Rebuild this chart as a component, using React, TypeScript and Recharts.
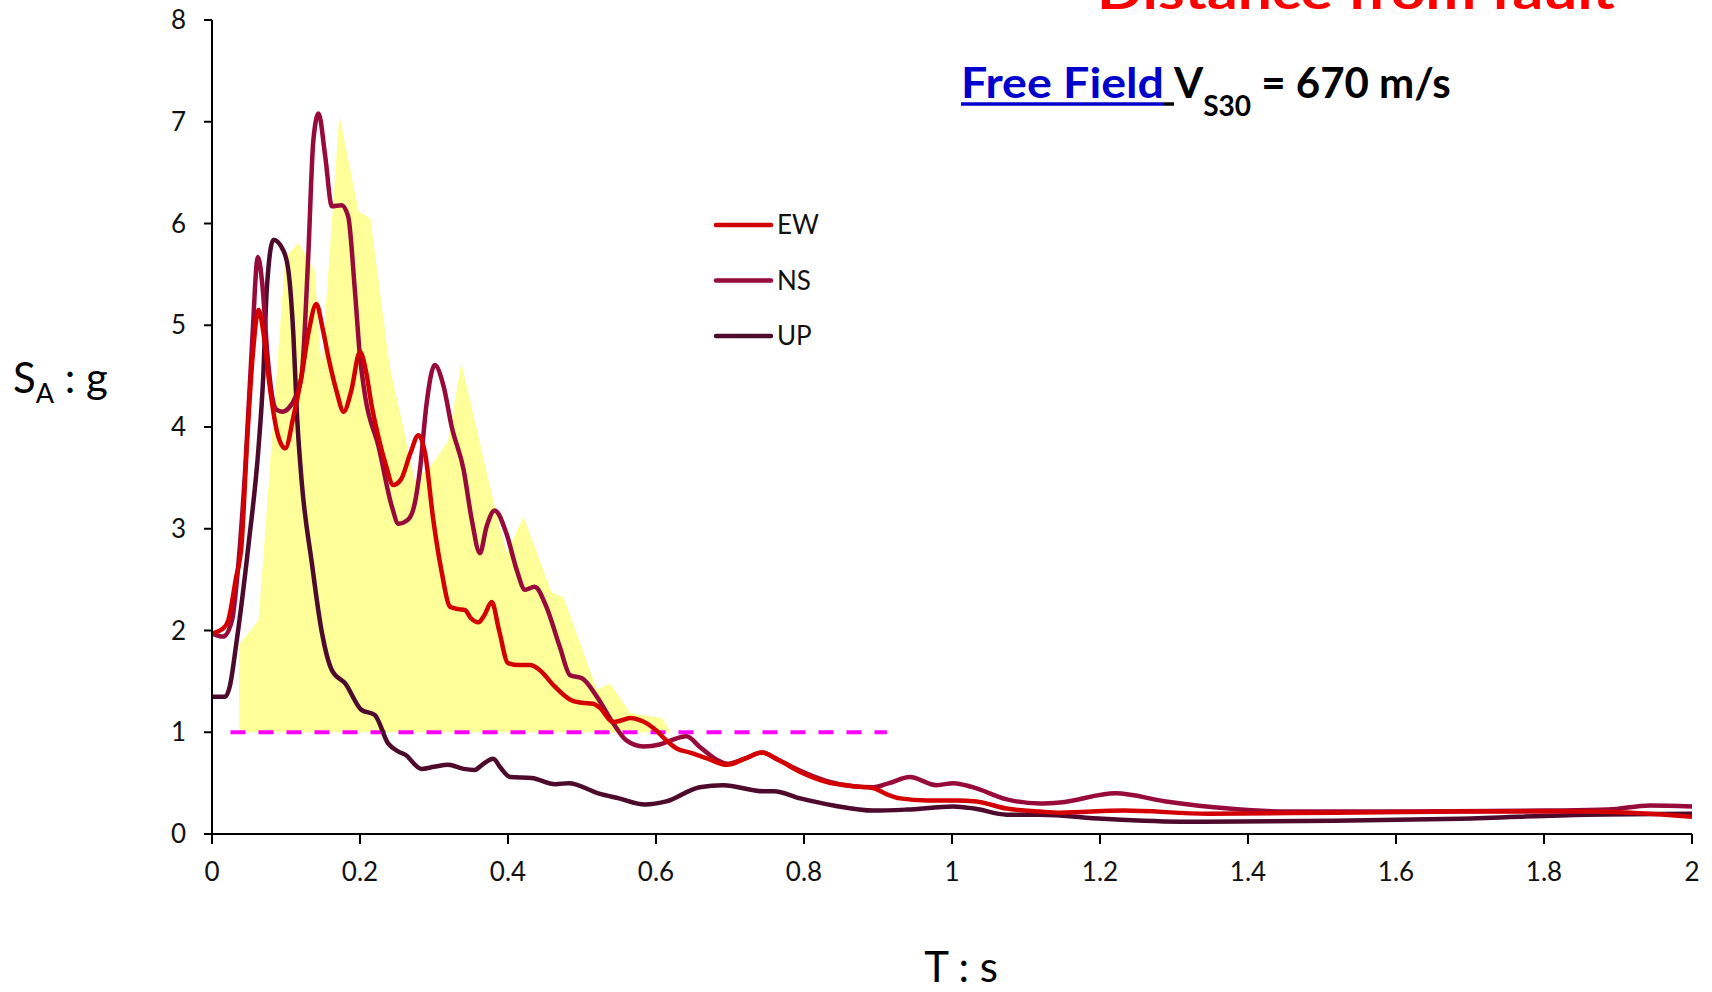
import { ComposedChart, Line, Area, XAxis, YAxis } from "recharts";

// periods (s) and spectral accelerations (g)
const T_TICKS = [0, 0.2, 0.4, 0.6, 0.8, 1, 1.2, 1.4, 1.6, 1.8, 2];
const SA_TICKS = [0, 1, 2, 3, 4, 5, 6, 7, 8];

const EW: [number, number][] = [
  [0, 1.97], [0.015, 2.02], [0.022, 2.1], [0.032, 2.5], [0.04, 2.85], [0.047, 3.8],
  [0.055, 4.7], [0.063, 5.15], [0.07, 4.9], [0.078, 4.4], [0.088, 3.95], [0.099, 3.79],
  [0.11, 4.1], [0.121, 4.5], [0.131, 4.95], [0.141, 5.21], [0.15, 4.95], [0.158, 4.66],
  [0.168, 4.36], [0.178, 4.15], [0.188, 4.35], [0.2, 4.74], [0.208, 4.55], [0.216, 4.2],
  [0.225, 3.9], [0.234, 3.65], [0.245, 3.43], [0.255, 3.48], [0.268, 3.74], [0.279, 3.92],
  [0.288, 3.74], [0.299, 3.09], [0.31, 2.59], [0.322, 2.23], [0.333, 2.21], [0.342, 2.2],
  [0.35, 2.12], [0.36, 2.08], [0.368, 2.15], [0.378, 2.28], [0.388, 2.0], [0.4, 1.68],
  [0.415, 1.66], [0.43, 1.66], [0.443, 1.61], [0.463, 1.45], [0.484, 1.32], [0.5, 1.29],
  [0.515, 1.28], [0.524, 1.24], [0.542, 1.1], [0.555, 1.12], [0.565, 1.14], [0.578, 1.12],
  [0.587, 1.09], [0.6, 1.02], [0.614, 0.92], [0.628, 0.84], [0.646, 0.8], [0.67, 0.74],
  [0.696, 0.68], [0.72, 0.74], [0.743, 0.8], [0.765, 0.73], [0.795, 0.61], [0.831, 0.51],
  [0.866, 0.47], [0.894, 0.45], [0.912, 0.39], [0.93, 0.35], [0.966, 0.33], [1.006, 0.33],
  [1.033, 0.32], [1.074, 0.25], [1.119, 0.22], [1.146, 0.21], [1.232, 0.23], [1.346, 0.2],
  [1.517, 0.21], [1.687, 0.22], [1.858, 0.22], [2.0, 0.17],
];

const NS: [number, number][] = [
  [0, 1.97], [0.015, 1.94], [0.027, 2.1], [0.035, 2.6], [0.045, 3.6], [0.054, 4.8],
  [0.062, 5.67], [0.068, 5.4], [0.075, 4.7], [0.087, 4.17], [0.095, 4.15], [0.103, 4.18],
  [0.113, 4.3], [0.121, 4.5], [0.13, 5.67], [0.137, 6.82], [0.144, 7.08], [0.153, 6.66],
  [0.162, 6.17], [0.175, 6.18], [0.184, 6.07], [0.193, 5.35], [0.2, 4.69], [0.207, 4.3],
  [0.225, 3.81], [0.243, 3.22], [0.252, 3.05], [0.265, 3.09], [0.274, 3.25], [0.281, 3.58],
  [0.29, 4.23], [0.301, 4.61], [0.313, 4.4], [0.324, 4.0], [0.34, 3.58], [0.351, 3.09],
  [0.362, 2.76], [0.371, 3.02], [0.382, 3.18], [0.398, 2.95], [0.412, 2.59], [0.423, 2.4],
  [0.436, 2.43], [0.452, 2.23], [0.47, 1.84], [0.484, 1.56], [0.5, 1.53], [0.52, 1.35],
  [0.542, 1.09], [0.56, 0.92], [0.583, 0.86], [0.605, 0.88], [0.62, 0.92], [0.641, 0.96],
  [0.66, 0.85], [0.682, 0.73], [0.696, 0.69], [0.72, 0.74], [0.743, 0.8], [0.765, 0.73],
  [0.795, 0.62], [0.831, 0.52], [0.866, 0.47], [0.894, 0.46], [0.915, 0.5], [0.943, 0.56],
  [0.979, 0.48], [1.002, 0.5], [1.028, 0.46], [1.074, 0.34], [1.119, 0.3], [1.146, 0.31],
  [1.221, 0.4], [1.289, 0.32], [1.374, 0.25], [1.459, 0.22], [1.63, 0.22], [1.8, 0.23],
  [1.887, 0.24], [1.943, 0.28], [2.0, 0.27],
];

const UP: [number, number][] = [
  [0, 1.35], [0.018, 1.35], [0.024, 1.45], [0.033, 1.88], [0.049, 2.82], [0.063, 3.81],
  [0.069, 4.46], [0.074, 5.35], [0.083, 5.84], [0.096, 5.74], [0.103, 5.55], [0.11, 4.9],
  [0.115, 4.1], [0.121, 3.48], [0.135, 2.66], [0.148, 2.0], [0.162, 1.61], [0.18, 1.48],
  [0.202, 1.22], [0.22, 1.17], [0.238, 0.89], [0.252, 0.81], [0.261, 0.78], [0.283, 0.64],
  [0.3, 0.66], [0.319, 0.68], [0.34, 0.64], [0.355, 0.63], [0.365, 0.68], [0.38, 0.74],
  [0.39, 0.65], [0.403, 0.56], [0.432, 0.55], [0.464, 0.49], [0.482, 0.5], [0.522, 0.4],
  [0.55, 0.35], [0.585, 0.29], [0.614, 0.32], [0.659, 0.46], [0.691, 0.48], [0.745, 0.42],
  [0.759, 0.42], [0.795, 0.35], [0.84, 0.28], [0.894, 0.23], [0.939, 0.24], [1.002, 0.27],
  [1.03, 0.25], [1.074, 0.19], [1.119, 0.19], [1.204, 0.15], [1.318, 0.12], [1.517, 0.13],
  [1.687, 0.15], [1.858, 0.19], [2.0, 0.2],
];

// yellow band, drawn from SA = 1 up to this envelope
const BAND_BASE = 1;
const BAND: [number, number][] = [
  [0.0365, 1.86], [0.063, 2.1], [0.099, 5.67], [0.117, 5.81], [0.139, 5.53], [0.148, 4.56],
  [0.172, 7.07], [0.198, 6.12], [0.214, 6.05], [0.24, 4.6], [0.274, 3.48], [0.295, 3.61],
  [0.319, 3.86], [0.337, 4.63], [0.38, 3.28], [0.398, 2.76], [0.421, 3.12], [0.459, 2.37],
  [0.475, 2.33], [0.52, 1.42], [0.538, 1.48], [0.565, 1.19], [0.608, 1.14], [0.62, 1.0],
];

// dashed 1 g limit line
const LIMIT: [number, number][] = [[0.025, 1], [0.912, 1]];

const SERIES = [
  { name: "EW", color: "#d40000", points: EW },
  { name: "NS", color: "#970a3a", points: NS },
  { name: "UP", color: "#4e0a2c", points: UP },
];

const rows = (pts: [number, number][]) => pts.map(([t, v]) => ({ t, v }));
const bandRows = BAND.map(([t, v]) => ({ t, range: [BAND_BASE, v] }));

const fmt = (v: number) => String(Math.round(v * 10) / 10);
const tickStyle = { fontSize: 26, fill: "#111", fontFamily: "Lato" };

export default function App() {
  return (
    <div style={{ position: "fixed", left: 0, top: 0, width: 1712, height: 992, background: "#fff", overflow: "hidden", fontFamily: "Lato" }}>
      <ComposedChart width={1712} height={992} margin={{ top: 20, right: 20, bottom: 98, left: 0 }}>
        <XAxis
          dataKey="t"
          type="number"
          domain={[0, 2]}
          ticks={T_TICKS}
          tickFormatter={fmt}
          height={60}
          tickSize={10}
          tickMargin={19}
          allowDataOverflow
          axisLine={{ stroke: "#000", strokeWidth: 2 }}
          tickLine={{ stroke: "#000", strokeWidth: 2 }}
          tick={tickStyle}
        />
        <YAxis
          type="number"
          domain={[0, 8]}
          ticks={SA_TICKS}
          width={212}
          tickSize={8}
          tickMargin={18}
          allowDataOverflow
          axisLine={{ stroke: "#000", strokeWidth: 2 }}
          tickLine={{ stroke: "#000", strokeWidth: 2 }}
          tick={tickStyle}
        />
        <Area data={bandRows} dataKey="range" type="linear" fill="#ffff99" fillOpacity={1} stroke="none" isAnimationActive={false} />
        <Line data={rows(LIMIT)} dataKey="v" type="linear" stroke="#ff00ff" strokeWidth={4} strokeDasharray="15 13" dot={false} activeDot={false} isAnimationActive={false} />
        {[...SERIES].reverse().map((s) => (
          <Line key={s.name} data={rows(s.points)} dataKey="v" name={s.name} type="monotone" stroke={s.color} strokeWidth={4.5} dot={false} activeDot={false} isAnimationActive={false} />
        ))}
      </ComposedChart>

      <svg width={1712} height={992} style={{ position: "absolute", left: 0, top: 0, pointerEvents: "none" }}>
        <text x={1097} y={9} fontSize={48} fontWeight={700} fill="#ff0000" textLength={518} lengthAdjust="spacingAndGlyphs">
          Distance from fault
        </text>

        <text x={961} y={98} fontSize={42} fontWeight={700} fill="#0000cc" textLength={203} lengthAdjust="spacingAndGlyphs">
          Free Field
        </text>
        <line x1={961} x2={1164} y1={104} y2={104} stroke="#0000cc" strokeWidth={3.5} />
        <line x1={1164} x2={1174} y1={104} y2={104} stroke="#000" strokeWidth={3.5} />
        <text x={1174} y={98} fontSize={42} fontWeight={700} fill="#000">
          V<tspan fontSize={28} dy={18}>S30</tspan>
          <tspan dy={-18} fontSize={42}> = 670 m/s</tspan>
        </text>

        <text x={13} y={393} fontSize={42} fill="#000">
          S<tspan fontSize={27} dy={10}>A</tspan>
          <tspan dy={-10} fontSize={42}> : g</tspan>
        </text>
        <text x={961} y={982} fontSize={42} fill="#000" textAnchor="middle">T : s</text>

        {SERIES.map((s, i) => (
          <g key={s.name}>
            <line x1={716} x2={771} y1={225 + i * 55.5} y2={225 + i * 55.5} stroke={s.color} strokeWidth={4.5} strokeLinecap="round" />
            <text x={777} y={225 + i * 55.5 + 9} fontSize={26} fill="#111">{s.name}</text>
          </g>
        ))}
      </svg>
    </div>
  );
}
